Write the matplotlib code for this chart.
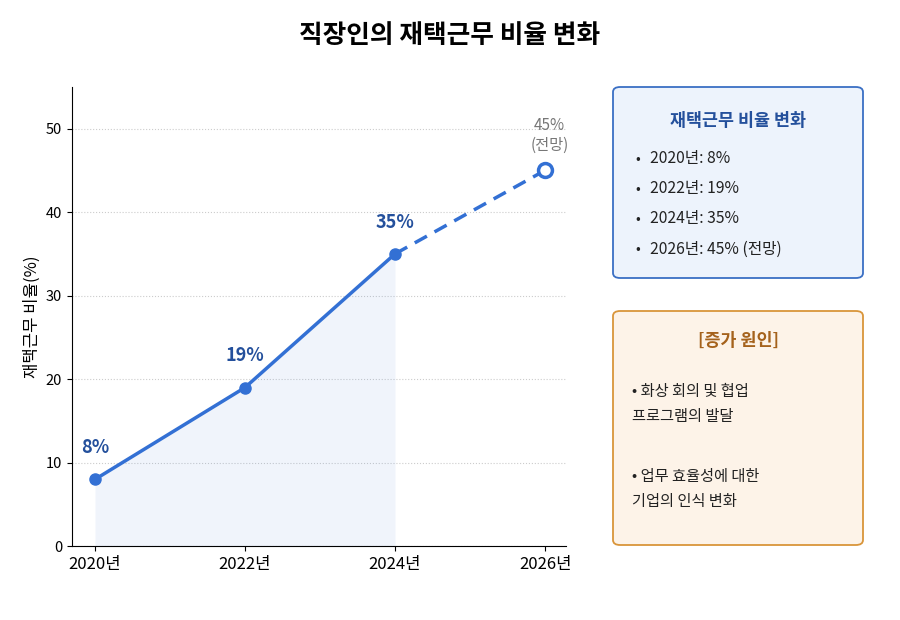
import matplotlib.pyplot as plt
from matplotlib.patches import FancyBboxPatch

plt.rcParams['font.family'] = ['Noto Sans CJK KR', 'DejaVu Sans']

# 데이터
years = ['2020년', '2022년', '2024년', '2026년']
rates = [8, 19, 35, 45]
summary_lines = ['2020년: 8%', '2022년: 19%', '2024년: 35%', '2026년: 45% (전망)']
reasons = ['• 화상 회의 및 협업\n프로그램의 발달', '• 업무 효율성에 대한\n기업의 인식 변화']

blue = '#3370D4'
dark_blue = '#24509C'

fig = plt.figure(figsize=(9, 6.2), dpi=100)
ax = fig.add_axes([0.08, 0.119, 0.549, 0.741])

x = list(range(len(years)))
# 실적 구간 (실선) + 전망 구간 (점선)
ax.fill_between(x[:3], rates[:3], color=blue, alpha=0.07, linewidth=0)
ax.plot(x[:3], rates[:3], color=blue, lw=2.5, marker='o', ms=8, zorder=3)
ax.plot(x[2:], rates[2:], color=blue, lw=2.5, ls='--', dashes=(4, 2.5), zorder=3)
ax.plot(x[3], rates[3], marker='o', ms=10, mfc='white', mec=blue, mew=2.5, zorder=4)

for i in range(3):
    ax.annotate(f'{rates[i]}%', (x[i], rates[i]), xytext=(0, 16), textcoords='offset points',
                ha='center', va='bottom', fontsize=13, fontweight='bold', color=dark_blue)
ax.annotate(f'{rates[3]}%\n(전망)', (x[3], rates[3]), xytext=(3, 12), textcoords='offset points',
            ha='center', va='bottom', fontsize=11, color='#777777', linespacing=1.2)

ax.set_xlim(-0.153, 3.14)
ax.set_ylim(0, 55)
ax.set_xticks(x)
ax.set_xticklabels(years, fontsize=12)
ax.set_yticks([0, 10, 20, 30, 40, 50])
ax.tick_params(axis='y', labelsize=10.5)
ax.set_ylabel('재택근무 비율(%)', fontsize=12)
ax.grid(axis='y', linestyle=':', color='#cccccc', linewidth=0.8)
ax.set_axisbelow(True)
for s in ['top', 'right']:
    ax.spines[s].set_visible(False)

fig.text(0.5, 0.943, '직장인의 재택근무 비율 변화', ha='center', va='center',
         fontsize=18.5, fontweight='bold')

# 요약 박스
def box(x0, y0, x1, y1, fc, ec):
    p = FancyBboxPatch((x0 / 900, 1 - y1 / 620), (x1 - x0) / 900, (y1 - y0) / 620,
                       boxstyle='round,pad=0,rounding_size=0.008', transform=fig.transFigure,
                       fc=fc, ec=ec, lw=1.3)
    fig.patches.append(p)

box(613, 87, 863, 278, '#EDF3FC', '#3A6FC4')
fig.text(738 / 900, 1 - 121 / 620, '재택근무 비율 변화', ha='center', va='center',
         fontsize=12.5, fontweight='bold', color=dark_blue)
for k, line in enumerate(summary_lines):
    yy = 1 - (159 + 30 * k) / 620
    fig.text(638 / 900, yy, '•', ha='center', va='center', fontsize=10, color='#222222')
    fig.text(650 / 900, yy, line, ha='left', va='center', fontsize=11.3, color='#222222')

box(613, 311, 863, 545, '#FDF3E8', '#D9953A')
fig.text(738 / 900, 1 - 341 / 620, '[증가 원인]', ha='center', va='center',
         fontsize=12.5, fontweight='bold', color='#A5621C')
for k, r in enumerate(reasons):
    fig.text(632 / 900, 1 - (404 + 85 * k) / 620, r, ha='left', va='center',
             fontsize=11, color='#222222', linespacing=1.55)

fig.savefig('out.png', dpi=100)
